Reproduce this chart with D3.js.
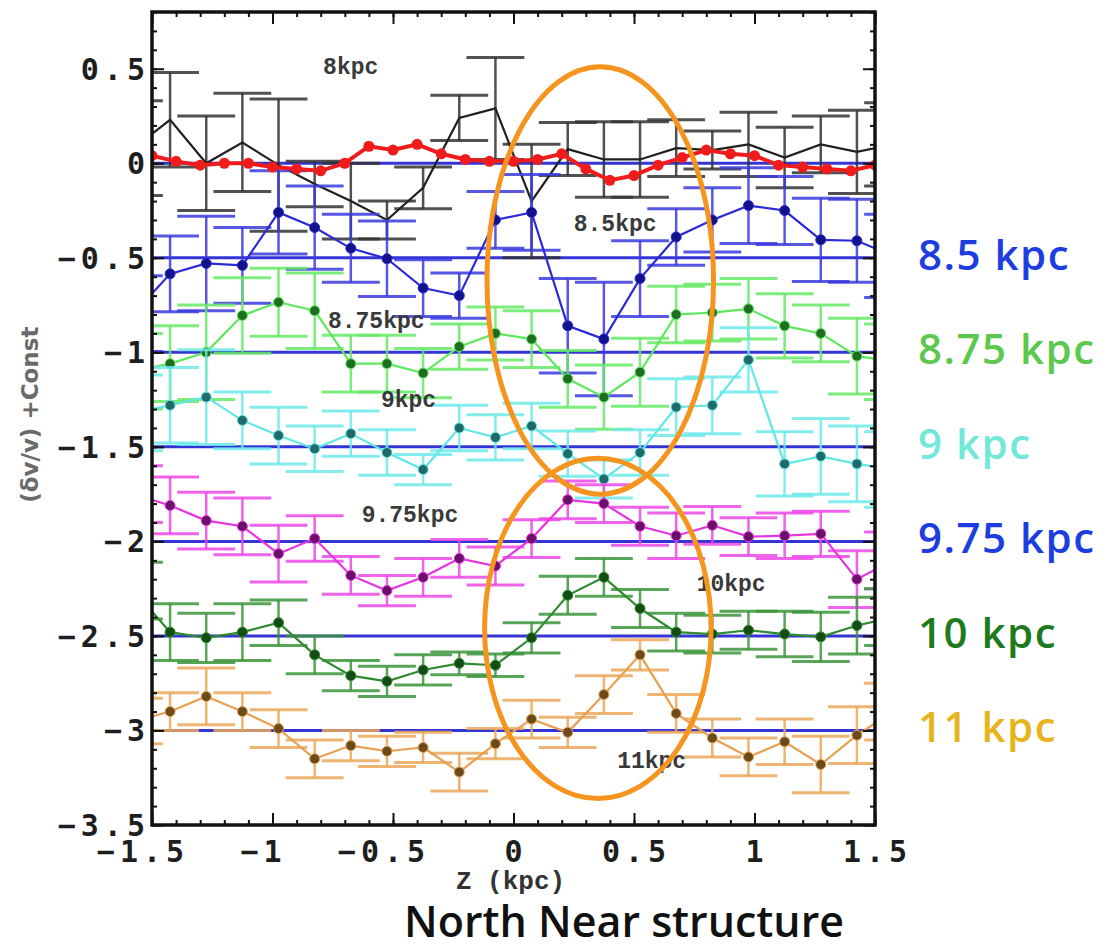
<!DOCTYPE html>
<html>
<head>
<meta charset="utf-8">
<script src="https://cdn.jsdelivr.net/npm/d3@7"></script>
<style>
  body { margin: 0; background: #fff; }
  #chart { width: 1108px; height: 952px; }
</style>
</head>
<body>
<div id="chart"></div>
<script>
// bin centres (kpc); the outer two sit just past the frame and get clipped
const zBins = [-1.575, -1.425, -1.275, -1.125, -0.975, -0.825, -0.675, -0.525, -0.375, -0.225, -0.075,
  0.075, 0.225, 0.375, 0.525, 0.675, 0.825, 0.975, 1.125, 1.275, 1.425, 1.575];
const zModel = [-1.5, -1.4, -1.3, -1.2, -1.1, -1.0, -0.9, -0.8, -0.7, -0.6, -0.5, -0.4, -0.3, -0.2, -0.1, 0.0,
  0.1, 0.2, 0.3, 0.4, 0.5, 0.6, 0.7, 0.8, 0.9, 1.0, 1.1, 1.2, 1.3, 1.4, 1.5];

const model = [0.04, 0.01, -0.01, 0.0, 0.0, -0.02, -0.03, -0.04, 0.0, 0.09, 0.07, 0.10, 0.05, 0.02, 0.01, 0.01,
  0.02, 0.05, -0.03, -0.09, -0.065, -0.01, 0.03, 0.07, 0.05, 0.04, -0.01, -0.02, -0.03, -0.04, -0.01];

const r8 = [0.08, 0.23, 0.0, 0.11, -0.01, -0.11, -0.2, -0.3, -0.13, 0.24, 0.29, -0.2, 0.075, 0.02, 0.02, 0.08, 0.07, 0.1, 0.03, 0.1, 0.06, 0.1];
const r8Err = [0.25, 0.25, 0.25, 0.26, 0.35, 0.12, 0.2, 0.1, 0.11, 0.12, 0.27, 0.3, 0.14, 0.2, 0.2, 0.15, 0.1, 0.17, 0.16, 0.15, 0.22, 0.22];

const r85 = [-0.795, -0.585, -0.53, -0.54, -0.26, -0.34, -0.45, -0.505, -0.66, -0.70, -0.30, -0.26, -0.86, -0.93, -0.61, -0.39, -0.30, -0.224, -0.25, -0.405, -0.41, -0.49];
const r85Err = [0.2, 0.2, 0.25, 0.2, 0.22, 0.22, 0.18, 0.2, 0.15, 0.12, 0.15, 0.2, 0.25, 0.3, 0.2, 0.15, 0.17, 0.2, 0.18, 0.22, 0.22, 0.22];

const r875 = [-1.1, -1.06, -1.0, -0.805, -0.735, -0.78, -1.06, -1.06, -1.11, -0.97, -0.90, -0.93, -1.14, -1.237, -1.105, -0.80, -0.79, -0.77, -0.86, -0.90, -1.02, -1.05];
const r875Err = [0.2, 0.2, 0.25, 0.2, 0.18, 0.2, 0.15, 0.15, 0.13, 0.12, 0.14, 0.15, 0.15, 0.17, 0.18, 0.15, 0.15, 0.16, 0.17, 0.15, 0.2, 0.2];

const r9 = [-1.32, -1.28, -1.237, -1.36, -1.44, -1.51, -1.43, -1.53, -1.62, -1.40, -1.45, -1.39, -1.536, -1.67, -1.53, -1.29, -1.28, -1.04, -1.59, -1.55, -1.59, -1.62];
const r9Err = [0.2, 0.2, 0.25, 0.15, 0.15, 0.12, 0.12, 0.12, 0.08, 0.12, 0.12, 0.12, 0.12, 0.1, 0.12, 0.15, 0.15, 0.17, 0.17, 0.2, 0.2, 0.2];

const r975 = [-1.75, -1.81, -1.89, -1.92, -2.065, -1.985, -2.18, -2.26, -2.19, -2.09, -2.13, -1.985, -1.78, -1.80, -1.92, -1.97, -1.915, -1.975, -1.97, -1.96, -2.20, -2.1];
const r975Err = [0.15, 0.15, 0.15, 0.15, 0.15, 0.12, 0.1, 0.08, 0.1, 0.1, 0.1, 0.1, 0.1, 0.1, 0.1, 0.12, 0.1, 0.1, 0.12, 0.12, 0.15, 0.15];

const r10 = [-2.26, -2.48, -2.51, -2.48, -2.43, -2.60, -2.71, -2.74, -2.68, -2.645, -2.655, -2.51, -2.285, -2.19, -2.355, -2.48, -2.49, -2.47, -2.49, -2.505, -2.445, -2.4];
const r10Err = [0.15, 0.15, 0.13, 0.15, 0.12, 0.1, 0.08, 0.08, 0.08, 0.06, 0.06, 0.08, 0.1, 0.1, 0.1, 0.1, 0.1, 0.1, 0.12, 0.13, 0.15, 0.15];

const r11 = [-2.95, -2.90, -2.82, -2.90, -2.99, -3.15, -3.08, -3.11, -3.09, -3.22, -3.07, -2.94, -3.01, -2.81, -2.60, -2.91, -3.04, -3.14, -3.06, -3.18, -3.025, -2.9];
const r11Err = [0.12, 0.1, 0.15, 0.1, 0.1, 0.1, 0.08, 0.08, 0.08, 0.1, 0.08, 0.1, 0.08, 0.1, 0.08, 0.1, 0.1, 0.1, 0.12, 0.15, 0.15, 0.15];

const baselines = [0, -0.5, -1, -1.5, -2, -2.5, -3];
const xTicks = [-1.5, -1, -0.5, 0, 0.5, 1, 1.5];
const yTicks = [0.5, 0, -0.5, -1, -1.5, -2, -2.5, -3, -3.5];

const inPlotLabels = [
  { text: "8kpc", z: -0.79, v: 0.47 },
  { text: "8.5kpc", z: 0.25, v: -0.36 },
  { text: "8.75kpc", z: -0.77, v: -0.87 },
  { text: "9kpc", z: -0.55, v: -1.29 },
  { text: "9.75kpc", z: -0.63, v: -1.9 },
  { text: "10kpc", z: 0.76, v: -2.26 },
  { text: "11kpc", z: 0.43, v: -3.2 }
];
const sideLabels = [
  { text: "8.5 kpc", v: -0.5, color: "#1c3de0" },
  { text: "8.75 kpc", v: -1.0, color: "#5cc84e" },
  { text: "9 kpc", v: -1.5, color: "#72e8d8" },
  { text: "9.75 kpc", v: -2.0, color: "#1c3de0" },
  { text: "10 kpc", v: -2.5, color: "#1d7a1d" },
  { text: "11 kpc", v: -3.0, color: "#e8b41c" }
];
// highlighted regions: centre (z, value) and radii in data units
const rings = [
  { z: 0.36, v: -0.62, rz: 0.47, rv: 1.13 },
  { z: 0.35, v: -2.46, rz: 0.47, rv: 0.9 }
];

const series = [
  { vals: r8, err: r8Err, line: "#202020", bar: "#333", dot: null },
  { vals: r85, err: r85Err, line: "#2a2ad8", bar: "#3a3ae0", dot: "#12128a" },
  { vals: r875, err: r875Err, line: "#5ee85e", bar: "#66ea66", dot: "#1f6e1f" },
  { vals: r9, err: r9Err, line: "#62e6e6", bar: "#6eeaea", dot: "#1f6a6a" },
  { vals: r975, err: r975Err, line: "#e634e0", bar: "#ec48e6", dot: "#6a1068" },
  { vals: r10, err: r10Err, line: "#2e8b2e", bar: "#3c963c", dot: "#134d13" },
  { vals: r11, err: r11Err, line: "#e8a050", bar: "#eba85a", dot: "#6b4a1c" }
];

const width = 1108, height = 952;
const margin = { top: 12, right: 233, bottom: 127, left: 152 };
const svg = d3.select("#chart").append("svg").attr("width", width).attr("height", height);

const x = d3.scaleLinear().domain([-1.5, 1.5]).range([margin.left, width - margin.right]);
const y = d3.scaleLinear().domain([-3.5, 0.8]).range([height - margin.bottom, margin.top]);

svg.append("defs").append("clipPath").attr("id", "plot").append("rect")
  .attr("x", x(-1.5)).attr("y", y(0.8)).attr("width", x(1.5) - x(-1.5)).attr("height", y(-3.5) - y(0.8));

const plot = svg.append("g").attr("clip-path", "url(#plot)");

plot.selectAll("line.base").data(baselines).join("line").attr("class", "base")
  .attr("x1", x(-1.5)).attr("x2", x(1.5)).attr("y1", (d) => y(d)).attr("y2", (d) => y(d))
  .attr("stroke", "#3434d6").attr("stroke-width", 3);

const capHalf = 0.12;
const line = d3.line().x((d) => x(d.z)).y((d) => y(d.v));

series.forEach((s) => {
  const pts = zBins.map((z, i) => ({ z: z, v: s.vals[i], e: s.err[i] }));
  const g = plot.append("g");
  g.selectAll("line.v").data(pts).join("line").attr("class", "v")
    .attr("x1", (d) => x(d.z)).attr("x2", (d) => x(d.z))
    .attr("y1", (d) => y(d.v + d.e)).attr("y2", (d) => y(d.v - d.e))
    .attr("stroke", s.bar).attr("stroke-width", 2.5).attr("opacity", 0.85);
  [1, -1].forEach((sign) => {
    g.selectAll("line.cap" + sign).data(pts).join("line")
      .attr("x1", (d) => x(d.z - capHalf)).attr("x2", (d) => x(d.z + capHalf))
      .attr("y1", (d) => y(d.v + sign * d.e)).attr("y2", (d) => y(d.v + sign * d.e))
      .attr("stroke", s.bar).attr("stroke-width", 3).attr("opacity", 0.85);
  });
  g.append("path").datum(pts).attr("fill", "none").attr("stroke", s.line).attr("stroke-width", 2.2).attr("d", line);
  if (s.dot) {
    g.selectAll("circle").data(pts).join("circle")
      .attr("cx", (d) => x(d.z)).attr("cy", (d) => y(d.v)).attr("r", 5)
      .attr("fill", s.dot).attr("stroke", s.line).attr("stroke-width", 1);
  }
});

const modelPts = zModel.map((z, i) => ({ z: z, v: model[i] }));
plot.append("path").datum(modelPts).attr("fill", "none").attr("stroke", "#f01c1c").attr("stroke-width", 4).attr("d", line);
plot.selectAll("circle.model").data(modelPts).join("circle").attr("class", "model")
  .attr("cx", (d) => x(d.z)).attr("cy", (d) => y(d.v)).attr("r", 5.5).attr("fill", "#f01c1c");

// frame and ticks (inward, all four sides)
function drawAxis(axis, transform) {
  const g = svg.append("g").attr("transform", transform).call(axis);
  g.select(".domain").remove();
  g.selectAll("line").attr("stroke", "#111").attr("stroke-width", 2);
  g.selectAll("text").remove();
}
const bottomY = y(-3.5), topY = y(0.8), leftX = x(-1.5), rightX = x(1.5);
drawAxis(d3.axisBottom(x).ticks(30).tickSize(-5), `translate(0,${bottomY})`);
drawAxis(d3.axisBottom(x).tickValues(xTicks).tickSize(-12), `translate(0,${bottomY})`);
drawAxis(d3.axisTop(x).ticks(30).tickSize(-5), `translate(0,${topY})`);
drawAxis(d3.axisTop(x).tickValues(xTicks).tickSize(-12), `translate(0,${topY})`);
drawAxis(d3.axisLeft(y).ticks(43).tickSize(-5), `translate(${leftX},0)`);
drawAxis(d3.axisLeft(y).tickValues(yTicks).tickSize(-12), `translate(${leftX},0)`);
drawAxis(d3.axisRight(y).ticks(43).tickSize(-5), `translate(${rightX},0)`);
drawAxis(d3.axisRight(y).tickValues(yTicks).tickSize(-12), `translate(${rightX},0)`);

svg.append("rect").attr("x", leftX).attr("y", topY).attr("width", rightX - leftX).attr("height", bottomY - topY)
  .attr("fill", "none").attr("stroke", "#111").attr("stroke-width", 3.5);

// tick labels: the digits sit centred on the tick, a minus hangs in front
const tickFont = "'DejaVu Sans Mono', monospace";
const tickSize = 30, tickSpacing = 5;
const charAdv = tickSize * 0.602 + tickSpacing;
const fmt = (v) => (v < 0 ? "\u2212" : "") + Math.abs(v).toString();

svg.selectAll("text.xt").data(xTicks).join("text").attr("class", "xt")
  .attr("x", (d) => x(d) - (d < 0 ? charAdv / 2 : 0) + tickSpacing / 2).attr("y", bottomY + 37)
  .attr("text-anchor", "middle").attr("font-family", tickFont).attr("font-weight", "bold")
  .attr("font-size", tickSize).attr("letter-spacing", tickSpacing).attr("fill", "#1e1e1e").text(fmt);

svg.selectAll("text.yt").data(yTicks).join("text").attr("class", "yt")
  .attr("x", leftX - 2).attr("y", (d) => y(d) + 11)
  .attr("text-anchor", "end").attr("font-family", tickFont).attr("font-weight", "bold")
  .attr("font-size", tickSize).attr("letter-spacing", tickSpacing).attr("fill", "#1e1e1e").text(fmt);

svg.append("text").attr("transform", `translate(38,${y(-1.33)}) rotate(-90)`)
  .attr("text-anchor", "middle").attr("font-family", "'DejaVu Sans', sans-serif").attr("font-weight", "bold")
  .attr("font-size", 23).attr("fill", "#6a6a6a").text("(\u03b4v/v) +Const");

svg.append("text").attr("x", x(0) - 3).attr("y", 889).attr("text-anchor", "middle")
  .attr("font-family", "'Liberation Mono', monospace").attr("font-weight", "bold")
  .attr("font-size", 26).attr("fill", "#333").text("Z (kpc)");

svg.append("text").attr("x", 624).attr("y", 937).attr("text-anchor", "middle")
  .attr("font-family", "'Open Sans', 'Noto Sans', sans-serif").attr("font-weight", 600)
  .attr("font-size", 43).attr("fill", "#111").text("North Near structure");

// labels inside the frame
svg.selectAll("text.il").data(inPlotLabels).join("text").attr("class", "il")
  .attr("x", (d) => x(d.z)).attr("y", (d) => y(d.v))
  .attr("font-family", "'Liberation Mono', monospace").attr("font-weight", "bold")
  .attr("font-size", 23).attr("fill", "#3a3a3a").text((d) => d.text);

// orange rings
svg.selectAll("ellipse").data(rings).join("ellipse")
  .attr("cx", (d) => x(d.z)).attr("cy", (d) => y(d.v))
  .attr("rx", (d) => x(d.z + d.rz) - x(d.z)).attr("ry", (d) => y(d.v - d.rv) - y(d.v))
  .attr("fill", "none").attr("stroke", "#f5951f").attr("stroke-width", 5);

// right-hand legend
svg.selectAll("text.side").data(sideLabels).join("text").attr("class", "side")
  .attr("x", 918).attr("y", (d) => y(d.v) + 12)
  .attr("font-family", "'Open Sans', 'Noto Sans', sans-serif").attr("font-weight", 600)
  .attr("font-size", 42).attr("letter-spacing", 1.5).attr("fill", (d) => d.color).text((d) => d.text);
</script>
</body>
</html>
